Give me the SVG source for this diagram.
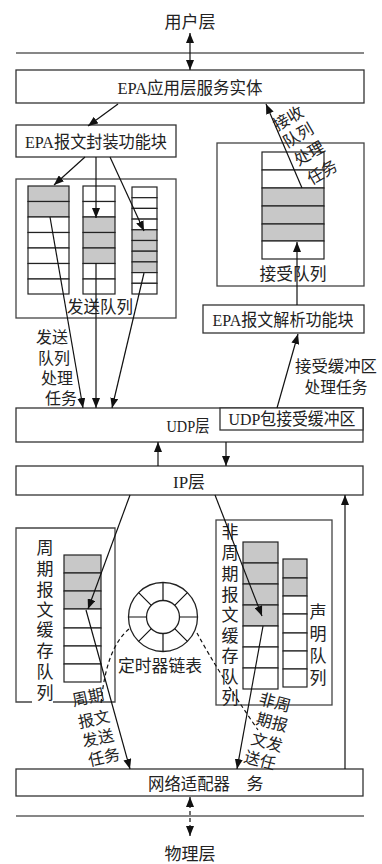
<svg xmlns="http://www.w3.org/2000/svg" width="382" height="864" viewBox="0 0 382 864">
<defs>
<marker id="ah" markerUnits="userSpaceOnUse" markerWidth="10" markerHeight="8" refX="10" refY="4" orient="auto-start-reverse"><path d="M0,0 L10,4 L0,8 z" fill="#111"/></marker>
<style>
.t{font-family:"Liberation Serif","Noto Sans CJK SC",serif;font-size:17px;fill:#222;text-anchor:middle}
.s{font-size:16px}
.box{fill:#fff;stroke:#333;stroke-width:1.3}
.frame{fill:none;stroke:#444;stroke-width:1.3}
.cell{fill:#fff;stroke:#222;stroke-width:1.2}
.g{fill:#c8c8c8;stroke:#222;stroke-width:1.2}
.ln{fill:none;stroke:#111;stroke-width:1.2}
.ar{fill:none;stroke:#111;stroke-width:1.2;marker-end:url(#ah)}
.da{fill:none;stroke:#111;stroke-width:1.2;stroke-dasharray:4 3}
</style>
</defs>
<rect width="382" height="864" fill="#fff"/>

<g id="user-layer"><text class="t" x="190" y="28">用户层</text></g>
<line class="ln" x1="16" y1="53" x2="364" y2="53"/>

<g id="app-entity"><rect class="box" x="16" y="70" width="348" height="33"/><text class="t" x="190" y="94" textLength="145" lengthAdjust="spacingAndGlyphs">EPA应用层服务实体</text></g>

<g id="encap"><rect class="box" x="16" y="125" width="160" height="32"/><text class="t" x="96" y="148" textLength="142" lengthAdjust="spacingAndGlyphs">EPA报文封装功能块</text></g>

<g id="send-queues">
<rect class="frame" x="16" y="179" width="160" height="139"/>
<g id="sq1">
<rect class="g" x="28" y="186" width="41" height="15.5"/><rect class="g" x="28" y="201.5" width="41" height="15.5"/>
<rect class="cell" x="28" y="217" width="41" height="15.5"/><rect class="cell" x="28" y="232.5" width="41" height="15.5"/>
<rect class="cell" x="28" y="248" width="41" height="15.5"/><rect class="cell" x="28" y="263.5" width="41" height="15.5"/>
<rect class="cell" x="28" y="279" width="41" height="15"/>
</g>
<g id="sq2">
<rect class="cell" x="83" y="186" width="32" height="15.5"/><rect class="cell" x="83" y="201.5" width="32" height="15.5"/>
<rect class="g" x="83" y="217" width="32" height="15.5"/><rect class="g" x="83" y="232.5" width="32" height="15.5"/>
<rect class="g" x="83" y="248" width="32" height="15.5"/><rect class="cell" x="83" y="263.5" width="32" height="15.5"/>
<rect class="cell" x="83" y="279" width="32" height="15"/>
</g>
<g id="sq3">
<rect class="cell" x="132" y="187" width="25" height="10.7"/><rect class="cell" x="132" y="197.7" width="25" height="10.7"/>
<rect class="cell" x="132" y="208.4" width="25" height="10.7"/><rect class="cell" x="132" y="219.1" width="25" height="10.7"/>
<rect class="g" x="132" y="229.8" width="25" height="10.7"/><rect class="g" x="132" y="240.5" width="25" height="10.7"/>
<rect class="g" x="132" y="251.2" width="25" height="10.7"/><rect class="g" x="132" y="261.9" width="25" height="10.7"/>
<rect class="cell" x="132" y="272.6" width="25" height="10.7"/><rect class="cell" x="132" y="283.3" width="25" height="10.7"/>
</g>
<text class="t" x="100" y="313" textLength="66" lengthAdjust="spacingAndGlyphs">发送队列</text>
</g>

<g id="recv-queue">
<rect class="frame" x="217" y="143" width="147" height="143"/>
<rect class="cell" x="262" y="152" width="62" height="18"/><rect class="cell" x="262" y="170" width="62" height="18"/>
<rect class="g" x="262" y="188" width="62" height="18"/><rect class="g" x="262" y="206" width="62" height="18"/>
<rect class="g" x="262" y="224" width="62" height="17"/><rect class="cell" x="262" y="241" width="62" height="18"/>
<text class="t" x="293" y="280" textLength="67" lengthAdjust="spacingAndGlyphs">接受队列</text>
</g>

<g id="parse"><rect class="box" x="203" y="305" width="161" height="28"/><text class="t" x="283" y="326" textLength="141" lengthAdjust="spacingAndGlyphs">EPA报文解析功能块</text></g>

<g id="udp">
<rect class="box" x="16" y="408" width="347" height="34"/>
<text class="t" x="188" y="432" textLength="43" lengthAdjust="spacingAndGlyphs">UDP层</text>
<rect class="box" x="220" y="408" width="143" height="22"/>
<text class="t" x="292" y="425" textLength="127" lengthAdjust="spacingAndGlyphs">UDP包接受缓冲区</text>
</g>

<g id="ip"><rect class="box" x="16" y="466" width="347" height="29"/><text class="t" x="189" y="488" textLength="32" lengthAdjust="spacingAndGlyphs">IP层</text></g>

<g id="periodic">
<path class="frame" d="M32,702 H16 V528 H115 V702 H53"/>
<g class="t">
<text x="45" y="554">周</text><text x="45" y="575">期</text><text x="45" y="596">报</text><text x="45" y="616">文</text>
<text x="45" y="636">缓</text><text x="45" y="657">存</text><text x="45" y="678">队</text><text x="45" y="699">列</text>
</g>
<rect class="g" x="64" y="555" width="37" height="18"/><rect class="g" x="64" y="573" width="37" height="18"/>
<rect class="g" x="64" y="591" width="37" height="18"/><rect class="cell" x="64" y="609" width="37" height="19"/>
<rect class="cell" x="64" y="628" width="37" height="18"/><rect class="cell" x="64" y="646" width="37" height="18"/>
<rect class="cell" x="64" y="664" width="37" height="18"/>
</g>

<g id="timer">
<circle cx="163" cy="617" r="34.5" fill="#fff" stroke="#222" stroke-width="1.3"/>
<circle cx="163" cy="617" r="16.5" fill="none" stroke="#222" stroke-width="1.3"/>
<path class="ln" d="M163,582.5 V600.5 M163,633.5 V651.5 M128.5,617 H146.5 M179.5,617 H197.5 M138.6,592.6 L151.3,605.3 M174.7,628.7 L187.4,641.4 M187.4,592.6 L174.7,605.3 M151.3,628.7 L138.6,641.4"/>
<text class="t" x="160" y="672" textLength="84" lengthAdjust="spacingAndGlyphs">定时器链表</text>
</g>

<g id="aperiodic">
<rect class="frame" x="216" y="520" width="116" height="185"/>
<g class="t">
<text x="230" y="538">非</text><text x="230" y="559">周</text><text x="230" y="580">期</text><text x="230" y="601">报</text>
<text x="230" y="621">文</text><text x="230" y="642">缓</text><text x="230" y="662">存</text><text x="230" y="683">队</text><text x="230" y="704">列</text>
</g>
<rect class="g" x="243" y="542" width="35" height="21"/><rect class="g" x="243" y="563" width="35" height="21"/>
<rect class="g" x="243" y="584" width="35" height="21"/><rect class="g" x="243" y="605" width="35" height="21"/>
<rect class="cell" x="243" y="626" width="35" height="21"/><rect class="cell" x="243" y="647" width="35" height="21"/>
<rect class="cell" x="243" y="668" width="35" height="21"/>
<rect class="g" x="283" y="559" width="24" height="19"/><rect class="g" x="283" y="578" width="24" height="18"/>
<rect class="cell" x="283" y="596" width="24" height="18"/><rect class="cell" x="283" y="614" width="24" height="19"/>
<rect class="cell" x="283" y="633" width="24" height="18"/><rect class="cell" x="283" y="651" width="24" height="18"/>
<rect class="cell" x="283" y="669" width="24" height="18"/>
<g class="t">
<text x="318" y="618">声</text><text x="318" y="640">明</text><text x="318" y="662">队</text><text x="318" y="684">列</text>
</g>
</g>

<g id="adapter">
<rect class="box" x="16" y="769" width="347" height="27"/>
<text class="t" x="189" y="790" textLength="82" lengthAdjust="spacingAndGlyphs">网络适配器</text>
<text class="t" x="255" y="790">务</text>
</g>

<line class="ln" x1="16" y1="816" x2="364" y2="816"/>
<g id="phys-layer"><text class="t" x="190" y="860">物理层</text></g>

<g id="connectors">
<line class="ln" x1="190" y1="33" x2="190" y2="70" style="marker-start:url(#ah);marker-end:url(#ah)"/>
<line class="ar" x1="118" y1="104" x2="88" y2="126"/>
<line class="ar" x1="85" y1="157" x2="54" y2="185"/>
<line class="ar" x1="96" y1="157" x2="96" y2="218"/>
<line class="ar" x1="110" y1="157" x2="144" y2="231"/>
<line class="ar" x1="50" y1="217" x2="83" y2="408"/>
<line class="ar" x1="96" y1="263" x2="96" y2="408"/>
<line class="ar" x1="144" y1="273" x2="112" y2="408"/>
<line class="ar" x1="302" y1="188" x2="266" y2="104"/>
<line class="ar" x1="297" y1="305" x2="297" y2="242"/>
<line class="ar" x1="277" y1="408" x2="298" y2="334"/>
<line class="ar" x1="158" y1="466" x2="158" y2="442"/>
<line class="ar" x1="226" y1="442" x2="226" y2="466"/>
<line class="ar" x1="130" y1="495" x2="88" y2="609"/>
<line class="ar" x1="215" y1="495" x2="262" y2="616"/>
<line class="ar" x1="86" y1="610" x2="130" y2="769"/>
<line class="ar" x1="263" y1="626" x2="237" y2="769"/>
<line class="ar" x1="345" y1="769" x2="345" y2="495"/>
<path class="da" d="M129,629 Q106,648 101,704"/>
<path class="da" d="M197,633 Q218,672 258,730"/>
<line class="da" x1="190" y1="797" x2="190" y2="836" style="marker-start:url(#ah);marker-end:url(#ah)"/>
</g>

<g id="labels" class="t s">
<text x="52" y="343">发送</text><text x="54" y="364">队列</text><text x="57" y="384">处理</text><text x="61" y="404">任务</text>
<text x="336" y="372" textLength="82" lengthAdjust="spacingAndGlyphs">接受缓冲区</text>
<text x="336" y="393" textLength="63" lengthAdjust="spacingAndGlyphs">处理任务</text>
<text transform="translate(288,118) rotate(-30)" y="6">接收</text>
<text transform="translate(298,135) rotate(-30)" y="6">队列</text>
<text transform="translate(309,153) rotate(-30)" y="6">处理</text>
<text transform="translate(322,172) rotate(-30)" y="6">任务</text>
<text transform="translate(88,697) rotate(-12)" y="6">周期</text>
<text transform="translate(94,719) rotate(-12)" y="6">报文</text>
<text transform="translate(98,738) rotate(-12)" y="6">发送</text>
<text transform="translate(104,757) rotate(-12)" y="6">任务</text>
<text transform="translate(275,702) rotate(15)" y="6">非周</text>
<text transform="translate(272,722) rotate(15)" y="6">期报</text>
<text transform="translate(267,742) rotate(15)" y="6">文发</text>
<text transform="translate(260,760) rotate(15)" y="6">送任</text>
</g>
</svg>
